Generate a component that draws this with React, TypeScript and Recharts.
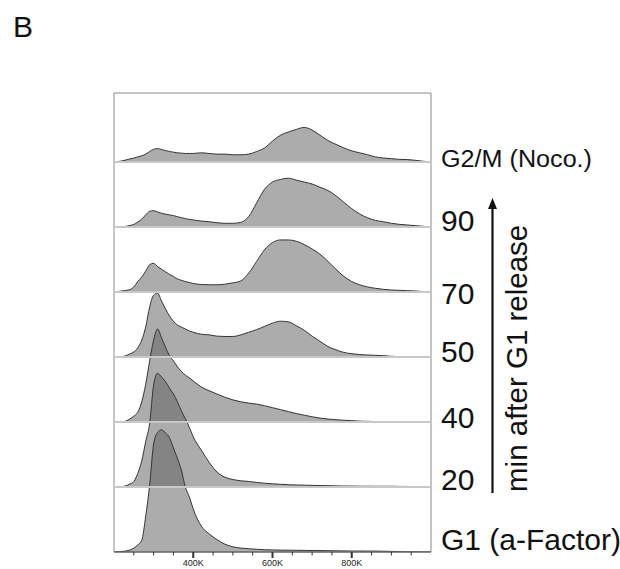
import React from "react";
import { ComposedChart, Area, XAxis, YAxis, ReferenceLine, ReferenceArea } from "recharts";

// DNA content (K), finer steps around the G1 peak
const dnaK = [
  200, 220, 240, 250, 260, 270, 280, 290, 300, 310, 320, 330, 340, 350, 360, 370, 380, 390, 400,
  420, 440, 460, 480, 500, 520, 540, 560, 580, 600, 620, 640, 660, 680, 700, 720, 740, 760, 780,
  800, 820, 840, 860, 880, 900, 920, 940, 960, 980, 1000,
];

// cell counts, one panel height = 100
const g1Arrest = [
  0, 0.8, 3, 6, 11, 18, 55, 103, 166, 184, 188, 183, 176, 160, 144, 126, 100, 85, 66,
  40, 28, 19, 12, 8, 6, 5, 4.2, 3.5, 3.2, 2.9, 2.8, 2.6, 2.5, 2.3, 2.2, 2, 1.8, 1.7,
  1.5, 1.5, 1.4, 1.4, 1.2, 0.9, 0.6, 0.3, 0.2, 0, 0,
];
const min20 = [
  0, 0.5, 4.6, 8.5, 21, 40, 70, 98, 157, 175, 169, 162, 152, 143, 131, 117, 105, 92, 77,
  57, 38, 23, 15, 11.5, 9.5, 8.5, 7, 5.8, 4.9, 4.2, 3.5, 3.1, 2.8, 2.5, 2.2, 2, 1.7, 1.5,
  1.4, 1.2, 1.2, 1.1, 1.1, 1.1, 0.9, 0.8, 0.5, 0.2, 0,
];
const min40 = [
  0, 0, 4.6, 9, 15, 31, 58, 94, 126, 143, 129, 115, 102, 94, 85, 78, 72, 68, 63,
  54, 48, 43, 38, 34, 31, 29, 27.5, 25, 22, 19, 16, 13, 10.5, 8, 6, 4.5, 3.5, 2.6,
  2, 1.3, 1, 0.7, 0.5, 0.4, 0.3, 0.3, 0.2, 0.1, 0,
];
const min50 = [
  0, 0.5, 4.6, 7.7, 14, 26, 46, 77, 95, 98, 86, 74, 63, 55, 49, 46, 43, 40, 38,
  35, 34, 32, 31.5, 31.5, 34, 38, 42, 47, 52, 55, 54, 48, 41, 32, 24, 16, 11, 7,
  5, 3.6, 3, 2.5, 2, 1, 0.5, 0, 0, 0, 0,
];
const min70 = [
  0, 1.5, 3.5, 7.7, 16, 23, 32, 42, 44, 39, 35, 31, 27, 24, 20, 18, 16, 14.6, 13,
  11.5, 11, 11, 12, 14, 17, 29, 47, 65, 76, 80, 80, 78, 73, 66, 58, 47, 35, 24,
  16, 11, 7.7, 5.6, 4, 3, 2.5, 2, 1.5, 0.5, 0,
];
const min90 = [
  0, 0, 2.3, 3.8, 7.7, 12, 18.5, 24, 25, 23, 21, 19.7, 18.5, 17.4, 15.8, 14.3, 12.8, 11.5, 10.8,
  9, 8, 6.5, 5.6, 5.6, 7, 16, 37, 58, 69, 73, 75, 72, 69, 66, 61, 56, 48, 38,
  28, 20, 14, 10, 8, 5.6, 4, 3, 2, 1, 0,
];
const g2mArrest = [
  0, 1.5, 4.6, 6, 7.7, 9.5, 12, 16, 19.5, 20.5, 19, 17.5, 16, 15, 14, 13.5, 13, 13, 13,
  14, 13, 12, 12, 11, 11, 12, 16, 21.5, 32, 41, 46, 50, 53, 49, 41, 33, 27, 21.5,
  17, 14, 11, 7.7, 6, 5, 4, 3.6, 2.5, 1, 0,
];

// bottom to top
const seriesKeys = ["g1", "m20", "m40", "m50", "m70", "m90", "g2m"];
const seriesValues = [g1Arrest, min20, min40, min50, min70, min90, g2mArrest];

const minorTicks = [
  250000, 300000, 350000, 400000, 450000, 500000, 550000, 600000, 650000, 700000, 750000,
  800000, 850000, 900000, 950000,
];
const majorTicks = [400000, 600000, 800000];
const tickLabels = ["400K", "600K", "800K"];

const PANEL = 100;
const Y_MAX = 706;

const data = dnaK.map((k, i) => {
  const row: Record<string, number> = { dna: k * 1000 };
  seriesValues.forEach((vals, s) => {
    row[seriesKeys[s]] = s * PANEL + vals[i];
  });
  return row;
});

const FONT = "'Liberation Sans', Arial, sans-serif";

function DnaTick(props: any) {
  const { x, y, payload } = props;
  const idx = majorTicks.indexOf(payload.value);
  const major = idx >= 0;
  return (
    <g>
      <line
        x1={x}
        x2={x}
        y1={y}
        y2={y + (major ? 6 : 3.5)}
        stroke="#333"
        strokeWidth={major ? 2 : 1}
      />
      {major && (
        <text x={x} y={y + 14} textAnchor="middle" fontSize={9} fill="#222" fontFamily={FONT}>
          {tickLabels[idx]}
        </text>
      )}
    </g>
  );
}

export default function App() {
  return (
    <div style={{ position: "absolute", left: 0, top: 0, width: 620, height: 569, background: "#fff" }}>
      <ComposedChart
        width={620}
        height={569}
        data={data}
        margin={{ top: 93, right: 189, bottom: 0, left: 114 }}
      >
        <XAxis
          type="number"
          dataKey="dna"
          domain={[200000, 1000000]}
          ticks={minorTicks}
          interval={0}
          tick={(p: any) => <DnaTick {...p} />}
          tickLine={false}
          tickSize={0}
          tickMargin={0}
          axisLine={{ stroke: "#555" }}
          height={17}
          allowDataOverflow
        />
        <YAxis type="number" domain={[0, Y_MAX]} hide allowDataOverflow />
        {seriesKeys
          .map((key, s) => (
            <Area
              key={key}
              type="monotone"
              dataKey={key}
              baseValue={s * PANEL}
              stroke="#353535"
              strokeWidth={1}
              fill="#606060"
              fillOpacity={0.52}
              isAnimationActive={false}
              dot={false}
              activeDot={false}
            />
          ))
          .reverse()}
        {seriesKeys.slice(1).map((key, s) => (
          <ReferenceLine key={"b" + key} y={(s + 1) * PANEL} stroke="#c8c8c8" strokeWidth={2} />
        ))}
        <ReferenceArea x1={200000} x2={1000000} y1={0} y2={Y_MAX} fill="none" stroke="#8a8a8a" strokeWidth={1} />
      </ComposedChart>
      <svg
        width={620}
        height={569}
        style={{ position: "absolute", left: 0, top: 0, pointerEvents: "none" }}
        fontFamily={FONT}
      >
        <text x={13} y={37} fontSize={30} fill="#111">B</text>
        <text x={441} y={167} fontSize={23} fill="#111" textLength={151} lengthAdjust="spacingAndGlyphs">
          G2/M (Noco.)
        </text>
        <text x={441} y={231} fontSize={30} fill="#111">90</text>
        <text x={441} y={304} fontSize={30} fill="#111">70</text>
        <text x={441} y={362} fontSize={30} fill="#111">50</text>
        <text x={441} y={428} fontSize={30} fill="#111">40</text>
        <text x={441} y={490} fontSize={30} fill="#111">20</text>
        <text x={441} y={550} fontSize={30} fill="#111">G1 (a-Factor)</text>
        <line x1={492.5} x2={492.5} y1={493} y2={206} stroke="#111" strokeWidth={2.2} />
        <polygon points="492.5,198 488,209 497,209" fill="#111" />
        <text x={527} y={492} fontSize={29.5} fill="#111" transform="rotate(-90 527 492)">
          min after G1 release
        </text>
      </svg>
    </div>
  );
}
